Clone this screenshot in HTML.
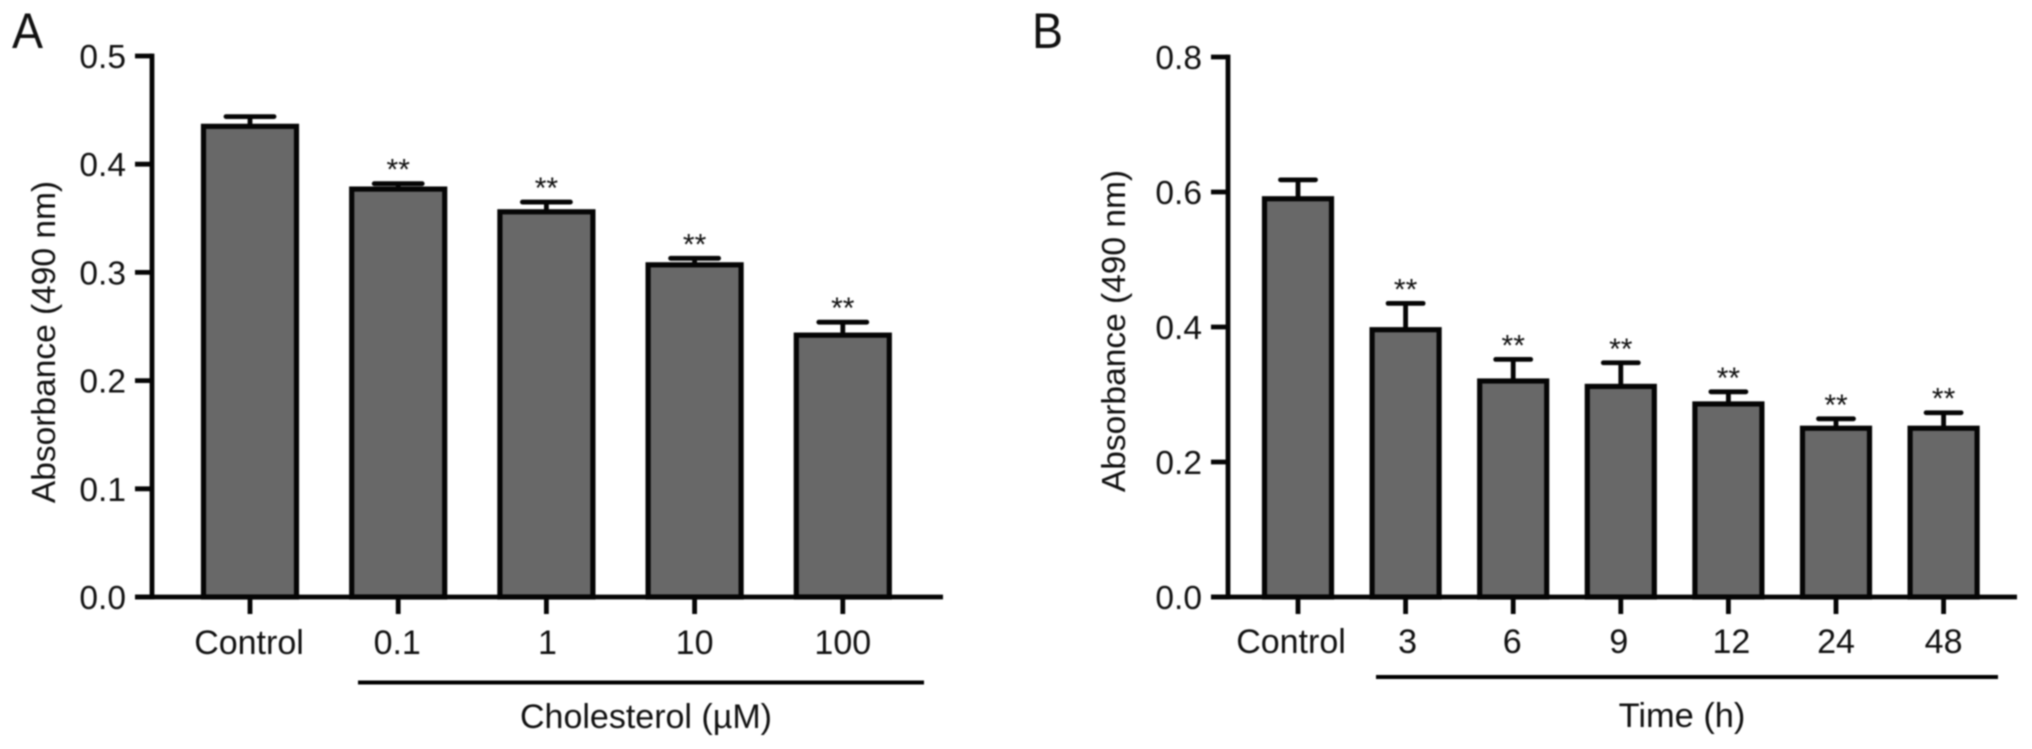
<!DOCTYPE html>
<html lang="en">
<head>
<meta charset="utf-8">
<title>Absorbance bar charts</title>
<style>
html,body{margin:0;padding:0;background:#fff;width:2032px;height:749px;overflow:hidden}
svg{display:block;filter:blur(0.7px)}
text{font-family:"Liberation Sans",Arial,sans-serif;fill:#111}
</style>
</head>
<body>
<svg id="figure" xmlns="http://www.w3.org/2000/svg" width="2032" height="749" viewBox="0 0 2032 749">
  <rect x="0" y="0" width="2032" height="749" fill="#fff"/>
  <g id="panel-a">
    <text transform="translate(12,48) scale(0.93,1)" font-size="50">A</text>
    <text transform="translate(55,342) rotate(-90)" text-anchor="middle" font-size="33.5">Absorbance (490 nm)</text>
    <line x1="358" y1="682.5" x2="924" y2="682.5" stroke="#000" stroke-width="4"/>
    <text x="646" y="728" text-anchor="middle" font-size="34">Cholesterol (µM)</text>
  </g>
  <g id="panel-b">
    <text transform="translate(1032,48) scale(0.93,1)" font-size="50">B</text>
    <text transform="translate(1125,331) rotate(-90)" text-anchor="middle" font-size="33.5">Absorbance (490 nm)</text>
    <line x1="1376" y1="677" x2="1998" y2="677" stroke="#000" stroke-width="4"/>
    <text x="1682" y="727" text-anchor="middle" font-size="34.4">Time (h)</text>
  </g>
</svg>
<script>
// Panel A data
const categoriesA = ['Control', '0.1', '1', '10', '100'];
const meansA = [0.435, 0.377, 0.356, 0.307, 0.242];
const errorsA = [0.009, 0.005, 0.009, 0.006, 0.012];
const significantA = [false, true, true, true, true];
const yTicksA = ['0.0', '0.1', '0.2', '0.3', '0.4', '0.5'];

// Panel B data
const categoriesB = ['Control', '3', '6', '9', '12', '24', '48'];
const meansB = [0.590, 0.396, 0.320, 0.312, 0.286, 0.250, 0.250];
const errorsB = [0.028, 0.039, 0.032, 0.035, 0.018, 0.014, 0.023];
const significantB = [false, true, true, true, true, true, true];
const yTicksB = ['0.0', '0.2', '0.4', '0.6', '0.8'];

const NS = 'http://www.w3.org/2000/svg';
const INK = '#050505';

function make(parent, tag, attrs, content) {
  const el = document.createElementNS(NS, tag);
  for (const k in attrs) el.setAttribute(k, attrs[k]);
  if (content !== undefined) el.textContent = content;
  parent.appendChild(el);
  return el;
}

function drawPanel(parent, cfg) {
  const yMax = parseFloat(cfg.yTicks[cfg.yTicks.length - 1]);
  const yScale = function (v) { return cfg.y0 - (v / yMax) * (cfg.y0 - cfg.yTop); };
  const xScale = function (i) { return cfg.x0 + i * cfg.step; };

  cfg.categories.forEach(function (cat, i) {
    const x = xScale(i);
    const top = yScale(cfg.means[i]);
    const capY = yScale(cfg.means[i] + cfg.errors[i]);

    const stem = make(parent, 'line', {x1: x, y1: top, x2: x, y2: capY, stroke: INK, 'stroke-width': 4.8});
    
    

    const cap = make(parent, 'line', {x1: x - cfg.capW / 2, y1: capY, x2: x + cfg.capW / 2, y2: capY, stroke: INK, 'stroke-width': 4.8, 'stroke-linecap': 'round'});
    
    

    const bar = make(parent, 'rect', {x: x - cfg.barW / 2, y: top, width: cfg.barW, height: cfg.y0 - top, fill: '#686868', stroke: INK, 'stroke-width': 5.2});
    
    

    const tick = make(parent, 'line', {x1: x, y1: cfg.y0, x2: x, y2: cfg.y0 + 17, stroke: INK, 'stroke-width': 4.8});
    
    

    const nudge = cfg.nudge[cat] || 0;
    const label = make(parent, 'text', {x: x + nudge, y: cfg.labelY, 'text-anchor': 'middle', 'font-size': 34}, cat);
    
    

    if (cfg.significant[i]) {
      const star = make(parent, 'text', {x: x, y: capY - 4, 'text-anchor': 'middle', 'font-size': 30}, '**');
      
      
    }
  });

  cfg.yTicks.forEach(function (t) {
    const y = yScale(parseFloat(t));
    const tick = make(parent, 'line', {x1: cfg.axisX - 17, y1: y, x2: cfg.axisX, y2: y, stroke: INK, 'stroke-width': 4.8});
    
    

    const label = make(parent, 'text', {x: cfg.axisX - 26, y: y + 12, 'text-anchor': 'end', 'font-size': 33.5}, t);
    
    
  });

  const yAxis = make(parent, 'line', {x1: cfg.axisX, y1: cfg.yTop - 2.4, x2: cfg.axisX, y2: cfg.y0 + 2.4, stroke: INK, 'stroke-width': 4.8});
  
  

  const xAxis = make(parent, 'line', {x1: cfg.axisX - 17, y1: cfg.y0, x2: cfg.xEnd, y2: cfg.y0, stroke: INK, 'stroke-width': 4.8});
  
  
}

drawPanel(document.getElementById('panel-a'), {
  categories: categoriesA, means: meansA, errors: errorsA, significant: significantA, yTicks: yTicksA,
  axisX: 152, xEnd: 943, x0: 250, step: 148.2, y0: 597, yTop: 56, barW: 93, capW: 48, labelY: 654, nudge: {'Control': -1, '0.1': -1, '1': 1}
});
drawPanel(document.getElementById('panel-b'), {
  categories: categoriesB, means: meansB, errors: errorsB, significant: significantB, yTicks: yTicksB,
  axisX: 1228, xEnd: 2017, x0: 1298, step: 107.6, y0: 597, yTop: 57, barW: 67, capW: 35, labelY: 653, nudge: {'Control': -7, '3': 2, '6': -1, '9': -2, '12': 3}
});
</script>
</body>
</html>
